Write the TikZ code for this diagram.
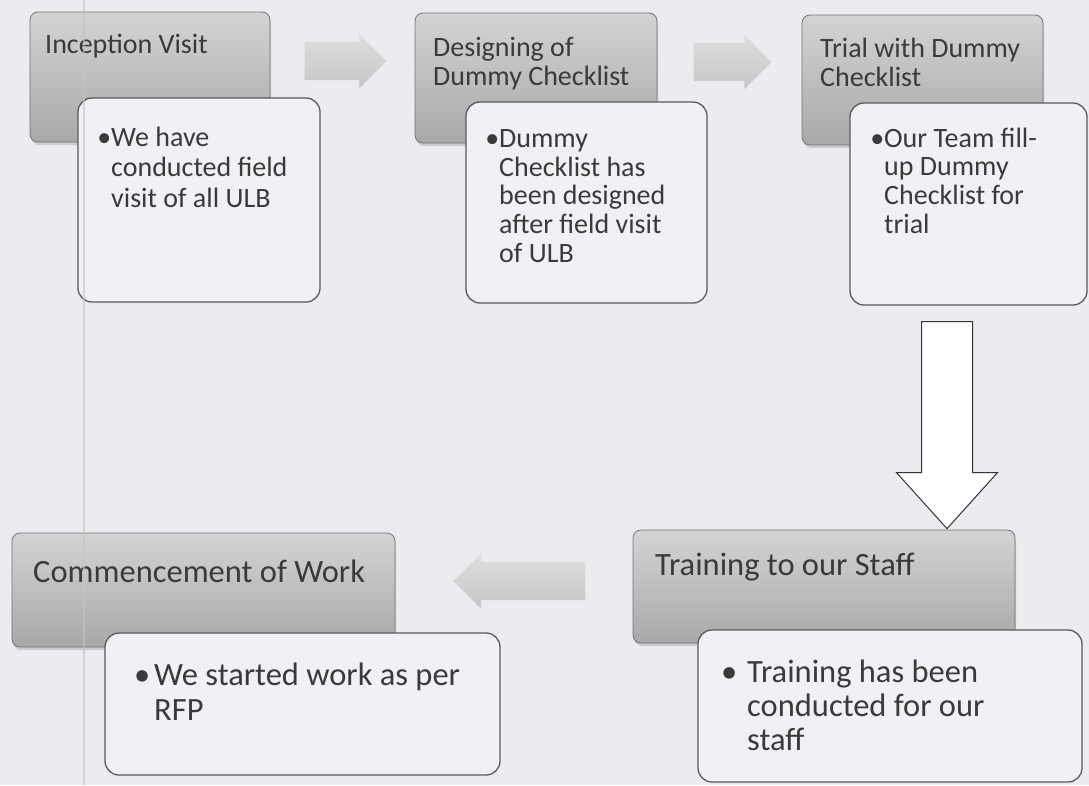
\documentclass[tikz,border=0pt]{standalone}
\usepackage{fontspec}
\setmainfont{Carlito}
\usetikzlibrary{shapes.arrows,shadows}

\definecolor{paper}{HTML}{ECEBF0}
\definecolor{inkgray}{HTML}{3A3A3A}
\definecolor{rimgray}{HTML}{5A5A5A}
\definecolor{cardfill}{HTML}{F1F0F4}
\definecolor{scanpink}{HTML}{CDBFC4}

\newcommand{\dotmark}[1]{\leavevmode\llap{\textbullet\hspace{#1}}}

\begin{document}
\begin{tikzpicture}[x=1pt, y=-1pt,
    headbox/.style={draw=rimgray!85, line width=0.8pt, rounded corners=8pt,
      top color=gray!34, bottom color=gray!68,
      drop shadow={shadow xshift=1pt, shadow yshift=-3pt, opacity=0.3}},
    cardbox/.style={draw=rimgray, line width=1.3pt, rounded corners=14pt,
      fill=cardfill},
    toptext/.style={inner sep=0pt, anchor=base west, text=inkgray,
      align=left, font=\fontsize{28}{28.6}\selectfont},
    lowtext/.style={toptext, font=\fontsize{32.5}{34.5}\selectfont},
    flowarrow/.style={single arrow, inner sep=19pt,
      single arrow head extend=8pt, top color=gray!26,
      bottom color=gray!44, draw=none}]

      \useasboundingbox (0,0) rectangle (1089,785);
      \fill[paper] (0,0) rectangle (1089,785);

      % top row: header boxes
      \node[headbox, minimum width=240pt, minimum height=130pt]
      (visit) at (150,77) {};
      \node[headbox, minimum width=242pt, minimum height=130pt]
      (design) at (536,78) {};
      \node[headbox, minimum width=241pt, minimum height=130pt]
      (trial) at (922.5,80) {};

      % (base of a text node is its last line)
      \node[toptext] (visitlbl) at (45,53) {Inception Visit};
      \node[toptext] (designlbl) at (433,85) {Designing of\\Dummy Checklist};
      \node[toptext] (triallbl) at (820,86) {Trial with Dummy\\Checklist};

      % top row: detail cards, laid over the headers
      \node[cardbox, minimum width=242pt, minimum height=204pt]
      (visitcard) at (199,200) {};
      \node[cardbox, minimum width=241pt, minimum height=201pt]
      (designcard) at (586.5,202.5) {};
      \node[cardbox, minimum width=237pt, minimum height=202pt]
      (trialcard) at (968.5,204) {};

      \node[toptext, font=\fontsize{28}{30.5}\selectfont] (visittxt)
      at (111,207)
      {\dotmark{0pt}We have\\conducted field\\visit of all ULB};
      \node[toptext] (designtxt) at (499,262)
      {\dotmark{0pt}Dummy\\Checklist has\\been designed\\after field visit\\of ULB};
      \node[toptext] (trialtxt) at (884,233)
      {\dotmark{0pt}Our Team fill-\\up Dummy\\Checklist for\\trial};

      % grey block arrows between the steps
      \node[flowarrow, minimum height=82pt] (step1) at (336,61) {};
      \node[flowarrow, minimum height=78pt] (step2) at (723,62) {};

      % open arrow down to the training step
      \node[single arrow, draw=black!80, fill=white, line width=1pt,
      inner sep=25pt, single arrow head extend=25pt,
      single arrow tip angle=84, minimum height=207pt,
      shape border rotate=270] (down) at (947,411) {};

      % bottom row: header boxes
      \node[headbox, minimum width=383pt, minimum height=114pt]
      (commence) at (203.5,590) {};
      \node[headbox, minimum width=382pt, minimum height=113pt]
      (training) at (824,586.5) {};

      \node[lowtext] (commencelbl) at (33,582) {Commencement of Work};
      \node[lowtext] (traininglbl) at (655,575) {Training to our Staff};

      % bottom row: detail cards
      \node[cardbox, minimum width=395pt, minimum height=142pt]
      (commencecard) at (302.5,704) {};
      \node[cardbox, minimum width=384pt, minimum height=152pt]
      (trainingcard) at (890,706) {};

      \node[lowtext] (commencetxt) at (154,720)
      {\dotmark{4pt}We started work as per\\RFP};
      \node[lowtext, font=\fontsize{32.5}{34}\selectfont] (trainingtxt)
      at (747,750)
      {\dotmark{10pt}Training has been\\conducted for our\\staff};

      % grey block arrow pointing back to the left
      \node[flowarrow, minimum height=132pt, single arrow head extend=8.5pt,
      shape border rotate=180] (back) at (529,581) {};

      % faint scanner streak
      \draw[scanpink, line width=2pt, opacity=0.6] (84,0) -- (84,785);
\end{tikzpicture}
\end{document}
